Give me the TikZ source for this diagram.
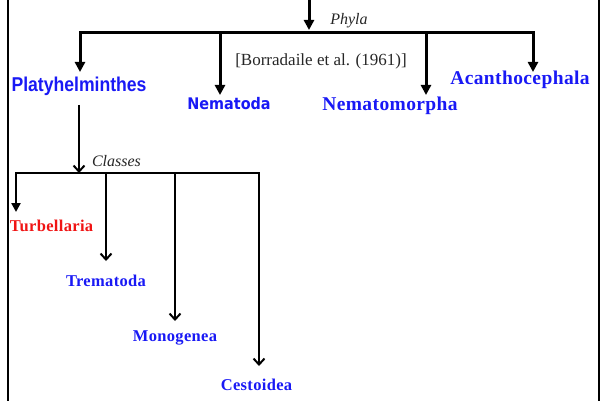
\documentclass[tikz,border=0pt]{standalone}
\usepackage{fontspec}
\setmainfont{Liberation Serif}
\newfontfamily\boldsansA[FakeStretch=0.88]{Liberation Sans}
\newfontfamily\boldsansB[FakeStretch=0.9]{DejaVu Sans}
\newfontfamily\spacedserif[LetterSpace=2]{Liberation Serif}
\newfontfamily\spacedserifB[LetterSpace=2]{Liberation Serif}
\usetikzlibrary{arrows.meta}
\definecolor{mblue}{RGB}{25,25,245}
\definecolor{mred}{RGB}{240,20,20}
\tikzset{
  thickline/.style={line width=3pt},
  thinline/.style={line width=2pt},
  bigarrow/.style={thickline,-{Triangle[length=10pt,width=10pt]}},
  smallarrow/.style={thinline,-{Straight Barb[length=6pt,width=11pt,line width=2pt]}},
  midarrow/.style={line width=2.6pt,-{Triangle[length=9pt,width=9pt]}},
  lbl/.style={inner sep=0pt,anchor=base},
  phylum/.style={lbl,text=mblue,font=\spacedserif\bfseries\fontsize{19.5}{22}\selectfont},
  klass/.style={lbl,text=mblue,font=\spacedserifB\bfseries\fontsize{16.5}{19}\selectfont},
  note/.style={lbl,text=black!85}
}
\begin{document}
\begin{tikzpicture}[x=1pt,y=-1pt]
\useasboundingbox (0,0) rectangle (602,401);
% frame
\draw[thinline] (8,-2) -- (8,403);
\draw[thinline] (599,-2) -- (599,403);

% labels
\node[note,font=\itshape\fontsize{16}{18}\selectfont] (phyla) at (349,25) {Phyla};
\node[note,font=\fontsize{17}{20}\selectfont] (ref) at (321,66) {[Borradaile et al. (1961)]};
\node[lbl,text=mblue,font=\boldsansA\bfseries\fontsize{20}{22}\selectfont] (platy) at (79,92) {Platyhelminthes};
\node[lbl,text=mblue,font=\boldsansB\bfseries\fontsize{16}{18}\selectfont] (nemat) at (229,110) {Nematoda};
\node[phylum] (nemam) at (390,110.5) {Nematomorpha};
\node[phylum] (acan) at (520,85) {Acanthocephala};
\node[note,font=\itshape\fontsize{16}{18}\selectfont] (classes) at (116.5,166.5) {Classes};
\node[klass,text=mred] (turb) at (51.5,231) {Turbellaria};
\node[klass] (trem) at (106,286.5) {Trematoda};
\node[klass] (mono) at (175,341) {Monogenea};
\node[klass] (cest) at (256.5,390.5) {Cestoidea};

% phyla tree
\coordinate (top) at (309,-2);
\coordinate (hub) at (309,30);
\coordinate (b1) at (80,33);
\coordinate (b2) at (220,33);
\coordinate (b3) at (426,33);
\coordinate (b4) at (533,33);
\coordinate (t1) at (80,72);
\coordinate (t2) at (220,95);
\coordinate (t3) at (426,95);
\coordinate (t4) at (533,72);
\draw[bigarrow] (top) -- (hub);
\draw[thickline,line cap=rect] (b1) -- (b4);
\draw[bigarrow] (b1) -- (t1);
\draw[bigarrow] (b2) -- (t2);
\draw[bigarrow] (b3) -- (t3);
\draw[bigarrow] (b4) -- (t4);

% classes tree
\coordinate (ps) at (79,105);
\coordinate (pe) at (79,173);
\coordinate (c1) at (16,173);
\coordinate (c2) at (106,173);
\coordinate (c3) at (175,173);
\coordinate (c4) at (259,173);
\coordinate (e1) at (16,212);
\coordinate (e2) at (106,261);
\coordinate (e3) at (175,321);
\coordinate (e4) at (259,366);
\draw[smallarrow] (ps) -- (pe);
\draw[thinline,line cap=rect] (c1) -- (c4);
\draw[midarrow] (c1) -- (e1);
\draw[smallarrow] (c2) -- (e2);
\draw[smallarrow] (c3) -- (e3);
\draw[smallarrow] (c4) -- (e4);
\end{tikzpicture}
\end{document}
